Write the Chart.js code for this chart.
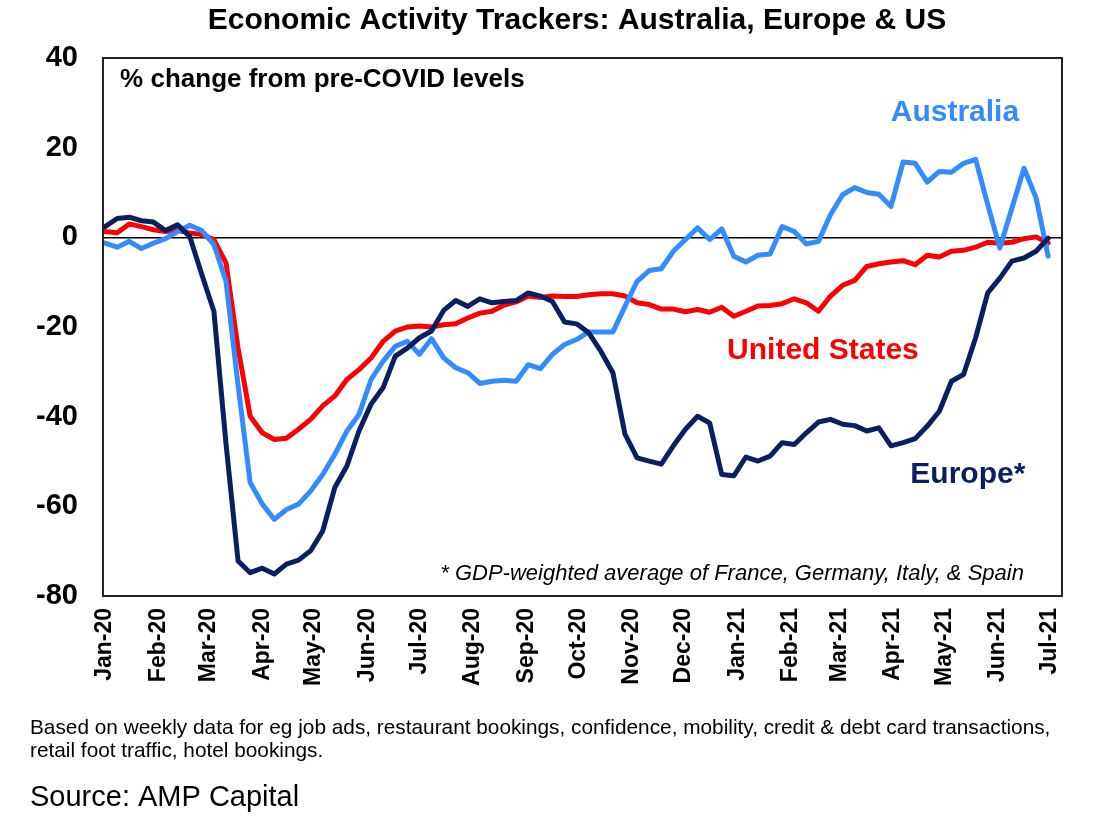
<!DOCTYPE html>
<html lang="en">
<head>
    <meta charset="UTF-8">
    <title>Economic Activity Trackers</title>
    <script src="https://cdn.jsdelivr.net/npm/chart.js"></script>
    <style>
        body { margin: 0; background: #fff; }
        canvas { display: block; }
    </style>
</head>
<body>
    <canvas id="chart" width="1100" height="832"></canvas>

    <script>
        // month tick labels and their day offset from 1 Jan 2020
        const monthLabels = ["Jan-20", "Feb-20", "Mar-20", "Apr-20", "May-20", "Jun-20", "Jul-20", "Aug-20", "Sep-20",
            "Oct-20", "Nov-20", "Dec-20", "Jan-21", "Feb-21", "Mar-21", "Apr-21", "May-21", "Jun-21", "Jul-21"];
        const monthDays = [0, 31, 60, 91, 121, 152, 182, 213, 244, 274, 305, 335, 366, 397, 425, 456, 486, 517, 547];

        // weekly readings, % change from pre-COVID levels
        const australia = [-1.3, -2.2, -0.9, -2.5, -1.3, -0.3, 1.3, 2.7, 1.5, -1.6,
            -9.8, -33, -54.7, -59.5, -62.9, -60.7, -59.5, -56.6, -52.9, -48.4,
            -43.2, -39.5, -31.7, -27.6, -24.3, -23.2, -26.1, -22.6, -26.9, -29.1,
            -30.2, -32.6, -32.1, -31.9, -32.1, -28.4, -29.3, -26.1, -23.9, -22.8,
            -21.1, -21.1, -21.1, -15.4, -9.8, -7.4, -7, -3.1, -0.5, 2.1,
            -0.5, 1.9, -4.2, -5.5, -4, -3.7, 2.4, 1.3, -1.5, -0.9,
            5.1, 9.5, 11.1, 10, 9.6, 6.9, 16.8, 16.5, 12.3, 14.7,
            14.5, 16.5, 17.4, 7.3, -2.4, 6.5, 15.4, 8.8, -4.2];
        const europe = [2.4, 4.2, 4.5, 3.7, 3.4, 1.5, 2.8, 0.2, -8.3, -16.5,
            -46, -72.2, -74.8, -73.8, -75.1, -72.9, -72, -69.9, -65.5, -55.8,
            -51, -43.2, -37.2, -33.5, -26.5, -24.7, -22.4, -20.9, -16.3, -14.1,
            -15.4, -13.7, -14.6, -14.3, -14.1, -12.4, -13.1, -14.3, -18.9, -19.3,
            -21.3, -25.4, -30.2, -43.9, -49.2, -49.9, -50.6, -46.5, -42.8, -39.9,
            -41.4, -52.9, -53.2, -49, -49.9, -48.8, -45.8, -46.2, -43.6, -41.2,
            -40.6, -41.7, -42, -43.2, -42.5, -46.5, -45.8, -44.9, -42.1, -38.8,
            -32.1, -30.6, -22.4, -12.4, -9.1, -5.3, -4.6, -3.1, -0.2];
        const unitedStates = [1.3, 1.0, 3.0, 2.4, 1.7, 1.3, 1.5, 1.0, 0.6, -0.5,
            -5.7, -24.7, -39.9, -43.6, -45.1, -44.8, -42.8, -40.6, -37.6, -35.4,
            -31.7, -29.5, -26.9, -23.2, -20.9, -20, -19.8, -20, -19.5, -19.3,
            -18, -16.9, -16.5, -15.1, -14.4, -13.1, -13.4, -13.1, -13.2, -13.2,
            -12.8, -12.6, -12.6, -13.1, -14.6, -15, -16, -16, -16.6, -16.1,
            -16.7, -15.6, -17.6, -16.5, -15.3, -15.2, -14.8, -13.7, -14.6, -16.5,
            -13.1, -10.7, -9.6, -6.5, -5.9, -5.5, -5.2, -6.1, -4, -4.4,
            -3.1, -2.9, -2.2, -1.1, -1.3, -1.1, -0.3, 0.1, -1.3];

        const AUS_BLUE = "#338cff";
        const EU_NAVY = "#0a1f62";
        const US_RED = "#ff0000";
        const FONT = "'Liberation Sans', Arial, sans-serif";

        const weekly = arr => arr.map((v, i) => ({ x: i * 7, y: v }));

        // titles, series labels and footnotes
        const textPlugin = {
            id: "texts",
            afterDraw(chart) {
                const { ctx, chartArea, scales: { x, y } } = chart;
                ctx.save();
                ctx.strokeStyle = "#222";
                ctx.lineWidth = 2;
                ctx.strokeRect(chartArea.left, chartArea.top, chartArea.right - chartArea.left, chartArea.bottom - chartArea.top);

                ctx.textBaseline = "middle";
                ctx.fillStyle = "#000";
                ctx.textAlign = "center";
                ctx.font = "bold 30px " + FONT;
                ctx.fillText("Economic Activity Trackers: Australia, Europe & US", 577, 21);

                ctx.textAlign = "left";
                ctx.font = "bold 26px " + FONT;
                ctx.fillText("% change from pre-COVID levels", x.getPixelForValue(8.7), y.getPixelForValue(35.2));

                ctx.textAlign = "center";
                ctx.font = "bold 30px " + FONT;
                ctx.fillStyle = AUS_BLUE;
                ctx.fillText("Australia", x.getPixelForValue(492), y.getPixelForValue(27.8));
                ctx.fillStyle = EU_NAVY;
                ctx.fillText("Europe*", x.getPixelForValue(499.5), y.getPixelForValue(-53));
                ctx.fillStyle = US_RED;
                ctx.fillText("United States", x.getPixelForValue(415.6), y.getPixelForValue(-25.4));

                ctx.fillStyle = "#000";
                ctx.font = "italic 22px " + FONT;
                ctx.fillText("* GDP-weighted average of France, Germany, Italy, & Spain", x.getPixelForValue(363), y.getPixelForValue(-75));

                ctx.textAlign = "left";
                ctx.font = "20.8px " + FONT;
                ctx.fillText("Based on weekly data for eg job ads, restaurant bookings, confidence, mobility, credit & debt card transactions,", 30, 728);
                ctx.fillText("retail foot traffic, hotel bookings.", 30, 751);
                ctx.font = "29px " + FONT;
                ctx.fillText("Source: AMP Capital", 30, 798);
                ctx.restore();
            }
        };

        new Chart(document.getElementById("chart"), {
            type: "line",
            data: {
                datasets: [
                    { label: "Europe*", data: weekly(europe), borderColor: EU_NAVY },
                    { label: "Australia", data: weekly(australia), borderColor: AUS_BLUE },
                    { label: "United States", data: weekly(unitedStates), borderColor: US_RED }
                ]
            },
            options: {
                responsive: false,
                animation: false,
                layout: { padding: { top: 58, right: 38, bottom: 136, left: 0 } },
                elements: {
                    line: { borderWidth: 5, tension: 0, borderJoinStyle: "round", borderCapStyle: "round" },
                    point: { radius: 0 }
                },
                plugins: {
                    legend: { display: false },
                    tooltip: { enabled: false }
                },
                scales: {
                    x: {
                        type: "linear",
                        min: -1.2,
                        max: 554,
                        afterBuildTicks: scale => { scale.ticks = monthDays.map(v => ({ value: v })); },
                        afterFit: scale => { scale.height = 100; },
                        grid: { display: false, drawTicks: false },
                        border: { display: false },
                        ticks: {
                            autoSkip: false,
                            minRotation: 90,
                            maxRotation: 90,
                            padding: 12,
                            color: "#000",
                            font: { family: FONT, size: 23, weight: "bold" },
                            callback: (value, index) => monthLabels[index]
                        }
                    },
                    y: {
                        min: -80,
                        max: 40,
                        afterFit: scale => { scale.width = 103; },
                        grid: {
                            drawTicks: false,
                            color: c => c.tick && c.tick.value === 0 ? "#000" : "rgba(0,0,0,0)",
                            lineWidth: 1.5
                        },
                        border: { display: false },
                        ticks: {
                            stepSize: 20,
                            padding: 25,
                            color: "#000",
                            font: { family: FONT, size: 29, weight: "bold" }
                        }
                    }
                }
            },
            plugins: [textPlugin]
        });
    </script>
</body>
</html>
